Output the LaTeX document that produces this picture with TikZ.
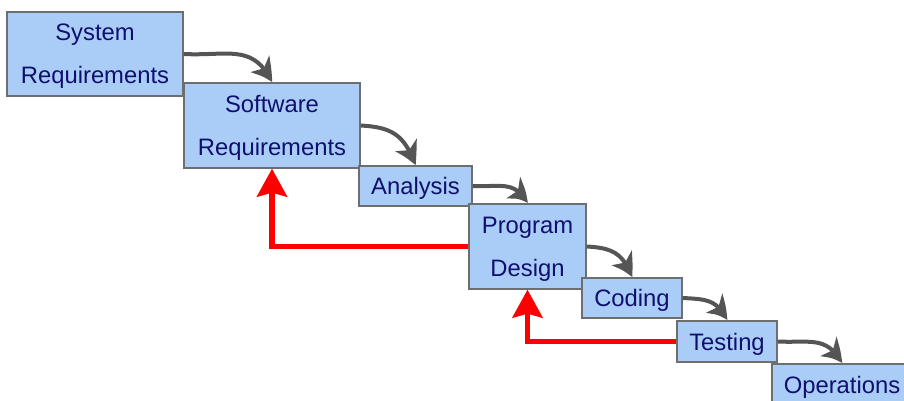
\documentclass[tikz,border=0pt]{standalone}
\usepackage{fontspec}
\setmainfont{Liberation Sans}
\usetikzlibrary{arrows.meta,bending}
\definecolor{boxfill}{RGB}{170,205,247}
\definecolor{boxline}{RGB}{110,110,110}
\definecolor{txtnavy}{RGB}{15,15,110}
\definecolor{arrgray}{RGB}{85,85,85}
\tikzset{
  phase/.style={draw=boxline, line width=1.3pt, fill=boxfill, text=txtnavy,
    inner sep=0pt, align=center, text depth=0pt, font=\fontsize{23.8}{43}\selectfont},
  flow/.style={draw=arrgray, line width=4pt,
    -{Stealth[length=24pt,width=24pt,inset=7pt,bend]}},
  back/.style={draw=red, line width=5.5pt,
    -{Stealth[length=28pt,width=30pt,inset=4pt]}}
}
\begin{document}
\begin{tikzpicture}[x=1pt,y=-1pt]
\useasboundingbox (0,0) rectangle (904,401);
\node[phase, minimum width=176pt, minimum height=84pt] (sys) at (95,54) {System\\Requirements};
\node[phase, minimum width=176pt, minimum height=85pt] (sw) at (272,125.5) {Software\\Requirements};
\node[phase, minimum width=113pt, minimum height=40pt] (an) at (415.5,186) {Analysis};
\node[phase, minimum width=117pt, minimum height=85pt] (pd) at (527.5,246.5) {Program\\Design};
\node[phase, minimum width=100pt, minimum height=40pt] (cod) at (632,298) {Coding};
\node[phase, minimum width=100pt, minimum height=41pt] (tst) at (727,341.5) {Testing};
\node[phase, minimum width=140pt, minimum height=41pt] (ops) at (842,384.5) {Operations};
\draw[flow] (sys.east) to[out=-3,in=115,looseness=1.2] (sw.north);
\draw[flow] (sw.east) to[out=-3,in=110,looseness=1.2] (an.north);
\draw[flow] (an.east) to[out=-3,in=118,looseness=1.2] (pd.north);
\draw[flow] (pd.east) to[out=-3,in=110,looseness=1.2] (cod.north);
\draw[flow] (cod.east) to[out=-3,in=115,looseness=1.2] (tst.north);
\draw[flow] (tst.east) to[out=-3,in=118,looseness=1.2] (ops.north);
\draw[back] (pd.west) -| (sw.south);
\draw[back] (tst.west) -| (pd.south);
\end{tikzpicture}
\end{document}
